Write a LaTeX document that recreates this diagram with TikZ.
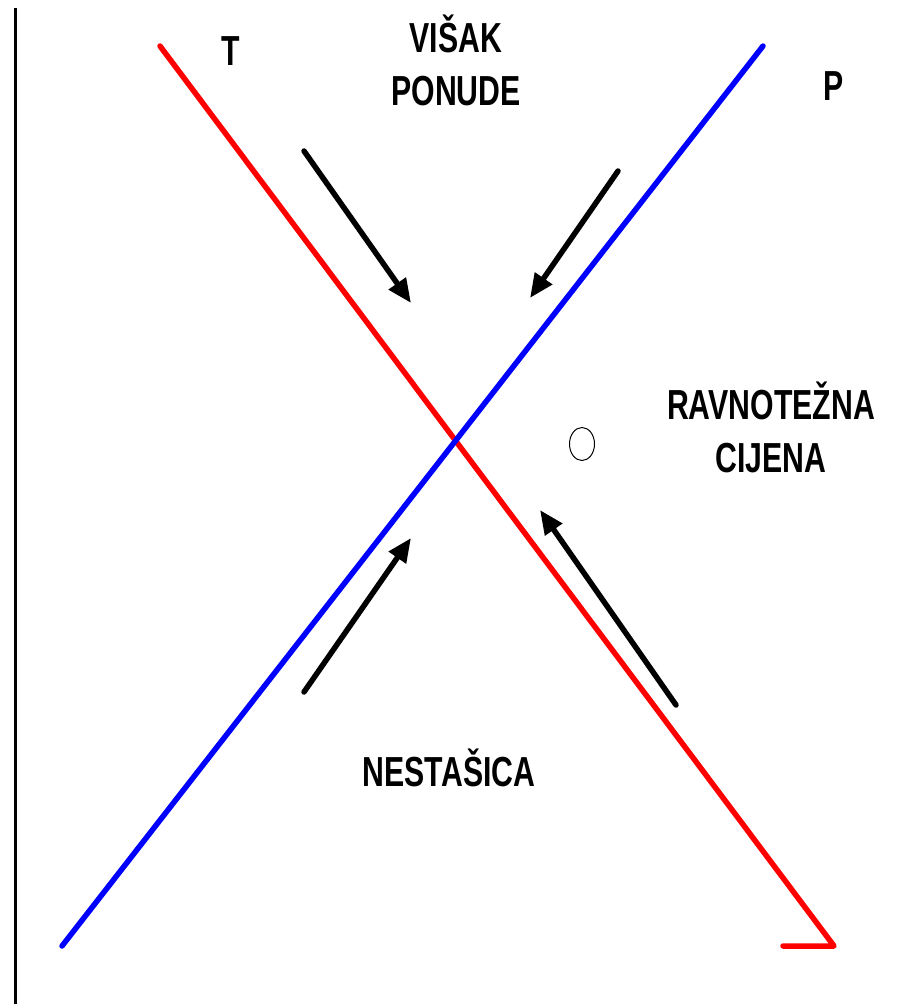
\documentclass[tikz,border=0pt]{standalone}
\usepackage{fontspec}
\setmainfont{Liberation Sans}[FakeStretch=0.72]
\usetikzlibrary{arrows.meta,shapes.geometric}
\begin{document}
\begin{tikzpicture}[x=1pt,y=-1pt,
  lbl/.style={font=\fontsize{42}{53}\selectfont\bfseries,align=center,anchor=base,inner sep=0pt},
  curve/.style={line width=5.5pt,line cap=round,line join=round},
  push/.style={line width=5.5pt,line cap=round,-{Triangle[length=24pt,width=20pt]}}]
\useasboundingbox (0,0) rectangle (897,1004);
% axis
\coordinate (ax0) at (15,8);
\coordinate (ax1) at (15,1004);
\draw[line width=3pt] (ax0) -- (ax1);
% demand T and supply P
\coordinate (t0) at (160,46);
\coordinate (t1) at (834,946);
\coordinate (t2) at (783,946);
\coordinate (p0) at (62,946);
\coordinate (p1) at (763,46);
\draw[curve,red] (t0) -- (t1) -- (t2);
\draw[curve,blue] (p0) -- (p1);
% price pushed towards equilibrium
\coordinate (a1) at (304,151);  \coordinate (b1) at (411,303);
\coordinate (a2) at (618,171);  \coordinate (b2) at (530,298);
\coordinate (a3) at (304,692);  \coordinate (b3) at (411,538);
\coordinate (a4) at (676,705);  \coordinate (b4) at (540,510);
\draw[push] (a1) -- (b1);
\draw[push] (a2) -- (b2);
\draw[push] (a3) -- (b3);
\draw[push] (a4) -- (b4);
\node[draw,ellipse,line width=1pt,minimum width=25pt,minimum height=33pt,inner sep=0pt] (eq) at (582,444) {};
% labels
\node[lbl] (lt) at (231,65) {T};
\node[lbl] (lp) at (834,100) {P};
\node[lbl] (visak) at (456,105) {VIŠAK\\PONUDE};
\node[lbl] (ravn) at (771,472) {RAVNOTEŽNA\\CIJENA};
\node[lbl] (nest) at (449,786) {NESTAŠICA};
\end{tikzpicture}
\end{document}
